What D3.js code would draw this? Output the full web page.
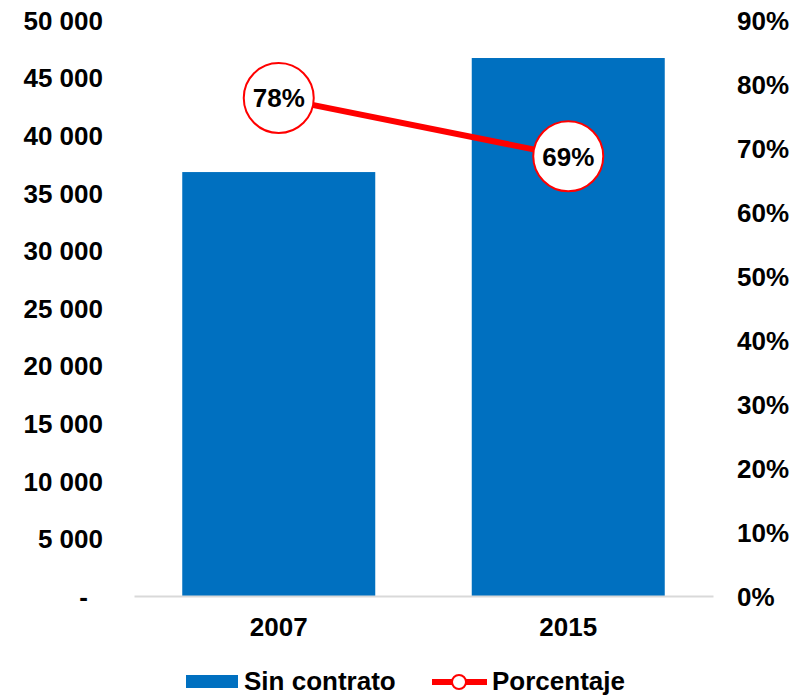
<!DOCTYPE html>
<html>
<head>
<meta charset="utf-8">
<script src="https://cdn.jsdelivr.net/npm/d3@7"></script>
<style>
  body { margin: 0; background: #fff; }
  text { font-family: "Liberation Sans", Arial, sans-serif; font-weight: bold; fill: #000; }
</style>
</head>
<body>
<script>
    //Data
        const years = ["2007", "2015"];
        const sinContrato = [36800, 46700];
        const porcentaje = [0.778, 0.687];
        const leftTicks = [0, 5000, 10000, 15000, 20000, 25000, 30000, 35000, 40000, 45000, 50000];
        const rightTicks = [0, 0.1, 0.2, 0.3, 0.4, 0.5, 0.6, 0.7, 0.8, 0.9];

    //Consts
        const width = 806;
        const height = 697;
        const plotLeft = 134, plotRight = 713, plotTop = 20, plotBottom = 596;
        const blue = "#0070C0";
        const red = "#FF0000";
        const fontSize = 26;

    //Scales
        const xScale = d3.scaleBand()
                        .domain(years)
                        .range([plotLeft, plotRight])
                        .paddingInner(1 / 3)
                        .paddingOuter(1 / 6);

        const yLeft = d3.scaleLinear()
                        .domain([0, 50000])
                        .range([plotBottom, plotTop]);

        const yRight = d3.scaleLinear()
                        .domain([0, 0.9])
                        .range([plotBottom, plotTop]);

    //SVG
        const svg = d3.select("body")
                    .append("svg")
                    .attr("width", width)
                    .attr("height", height);

    //Bars
        svg.selectAll("rect.bar")
            .data(years)
            .enter()
            .append("rect")
            .attr("class", "bar")
            .attr("x", d => xScale(d))
            .attr("y", (d, i) => yLeft(sinContrato[i]))
            .attr("width", xScale.bandwidth())
            .attr("height", (d, i) => plotBottom - yLeft(sinContrato[i]))
            .attr("fill", blue);

    //Axes
        const fmtLeft = d => d === 0 ? "-" : d3.format(",")(d).replace(/,/g, " ");

        const leftAxis = d3.axisLeft(yLeft)
                           .tickValues(leftTicks)
                           .tickFormat(fmtLeft)
                           .tickSize(0)
                           .tickPadding(31);

        const rightAxis = d3.axisRight(yRight)
                            .tickValues(rightTicks)
                            .tickFormat(d3.format(".0%"))
                            .tickSize(0)
                            .tickPadding(24);

        const bottomAxis = d3.axisBottom(xScale)
                             .tickSize(0)
                             .tickPadding(22);

        const gl = svg.append("g")
            .attr("transform", "translate(" + plotLeft + ",0)")
            .call(leftAxis);
        gl.select(".domain").remove();
        gl.selectAll("text")
            .style("font-size", fontSize + "px")
            .attr("dy", "0.36em")
            .attr("dx", d => d === 0 ? -15 : 0);

        const gr = svg.append("g")
            .attr("transform", "translate(" + plotRight + ",0)")
            .call(rightAxis);
        gr.select(".domain").remove();
        gr.selectAll("text")
            .style("font-size", fontSize + "px")
            .attr("dy", "0.36em");

        const gb = svg.append("g")
            .attr("transform", "translate(0," + plotBottom + ")")
            .call(bottomAxis);
        gb.select(".domain")
            .attr("stroke", "#d9d9d9")
            .attr("stroke-width", 2);
        gb.selectAll("text")
            .style("font-size", fontSize + "px")
            .attr("dy", "0.71em");

    //Line
        const cx = d => xScale(d) + xScale.bandwidth() / 2;
        const line = d3.line()
                       .x(d => cx(d))
                       .y((d, i) => yRight(porcentaje[i]));

        svg.append("path")
            .datum(years)
            .attr("d", line)
            .attr("fill", "none")
            .attr("stroke", red)
            .attr("stroke-width", 6);

        svg.selectAll("circle.pt")
            .data(years)
            .enter()
            .append("circle")
            .attr("class", "pt")
            .attr("cx", d => cx(d))
            .attr("cy", (d, i) => yRight(porcentaje[i]))
            .attr("r", 35)
            .attr("fill", "#fff")
            .attr("stroke", red)
            .attr("stroke-width", 2);

        svg.selectAll("text.lbl")
            .data(years)
            .enter()
            .append("text")
            .attr("class", "lbl")
            .attr("x", d => cx(d))
            .attr("y", (d, i) => yRight(porcentaje[i]))
            .attr("dy", "0.36em")
            .attr("text-anchor", "middle")
            .style("font-size", fontSize + "px")
            .text((d, i) => d3.format(".0%")(porcentaje[i]));

    //Legend
        const lg = svg.append("g");
        lg.append("rect")
            .attr("x", 186).attr("y", 675)
            .attr("width", 52).attr("height", 13)
            .attr("fill", blue);
        lg.append("text")
            .attr("x", 244).attr("y", 690)
            .style("font-size", fontSize + "px")
            .text("Sin contrato");
        lg.append("line")
            .attr("x1", 432).attr("x2", 487)
            .attr("y1", 682).attr("y2", 682)
            .attr("stroke", red)
            .attr("stroke-width", 6);
        lg.append("circle")
            .attr("cx", 459).attr("cy", 682)
            .attr("r", 7)
            .attr("fill", "#fff")
            .attr("stroke", red)
            .attr("stroke-width", 2);
        lg.append("text")
            .attr("x", 492).attr("y", 690)
            .style("font-size", fontSize + "px")
            .text("Porcentaje");
</script>
</body>
</html>
